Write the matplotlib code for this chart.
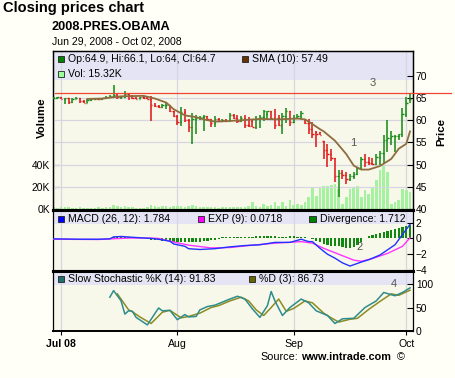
import matplotlib
matplotlib.use("Agg")
import matplotlib.pyplot as plt
from matplotlib.patches import Rectangle

plt.rcParams['font.family'] = ['Liberation Sans', 'DejaVu Sans']

W, H = 456, 378

# day index 0 = Jun 29 2008, one bar per day up to Oct 02
opens = [65.0, 65.1, 65.2, 64.9, 65.0, 64.1, 64.9, 65.1, 64.3, 64.0,
         64.5, 64.7, 64.9, 64.8, 65.0, 65.2, 65.4, 65.8, 65.2, 65.3,
         65.9, 65.4, 65.1, 64.9, 65.2, 65.1, 64.9, 63.5, 63.2, 63.1,
         63.4, 63.5, 62.1, 61.0, 59.6, 61.9, 60.1, 58.4, 60.3, 60.6,
         60.7, 60.9, 60.2, 59.4, 60.3, 59.9, 60.1, 59.8, 61.2, 60.6,
         59.8, 60.5, 58.9, 59.9, 58.6, 60.2, 60.8, 61.5, 62.1, 60.6,
         60.5, 58.9, 61.0, 62.2, 59.6, 60.5, 61.0, 60.4, 59.5, 58.0,
         57.4, 57.3, 55.3, 53.4, 52.5, 51.4, 47.5, 48.2, 47.6, 46.8,
         47.4, 48.0, 49.2, 51.2, 50.5, 50.3, 50.1, 51.8, 52.6, 55.5,
         56.0, 56.4, 56.5, 56.9, 61.5, 64.9]
highs = [65.3, 65.3, 65.3, 65.1, 65.1, 65.0, 65.2, 65.1, 64.6, 64.7,
         64.9, 65.0, 65.1, 65.1, 65.4, 65.6, 67.9, 66.0, 65.5, 66.7,
         66.1, 65.6, 65.3, 65.3, 65.4, 65.3, 65.4, 63.9, 63.5, 63.6,
         63.8, 63.5, 62.1, 61.3, 62.9, 62.5, 60.3, 61.6, 61.1, 60.9,
         61.1, 61.0, 60.4, 60.9, 60.5, 60.3, 60.4, 61.6, 61.4, 61.1,
         60.9, 61.1, 60.8, 60.3, 61.0, 61.1, 62.4, 62.2, 62.1, 62.5,
         61.1, 61.6, 62.7, 62.2, 61.1, 61.4, 62.0, 60.4, 60.3, 59.7,
         57.5, 57.4, 55.4, 54.7, 53.6, 51.4, 48.7, 48.7, 48.3, 47.9,
         48.3, 49.4, 51.7, 52.4, 51.7, 51.4, 52.4, 53.0, 56.7, 60.0,
         57.5, 56.7, 57.0, 62.7, 65.3, 66.1]
lows = [64.8, 64.9, 64.7, 63.6, 63.7, 64.0, 64.8, 63.9, 63.8, 63.9,
        64.3, 64.5, 64.7, 64.6, 64.9, 65.0, 65.1, 64.9, 64.8, 65.0,
        64.6, 64.9, 64.7, 64.8, 64.9, 64.8, 59.8, 63.0, 62.8, 62.8,
        62.6, 61.8, 60.7, 58.9, 58.7, 59.6, 57.3, 54.7, 56.9, 60.1,
        57.7, 59.8, 58.5, 58.4, 59.6, 59.7, 59.6, 59.8, 60.3, 59.4,
        59.6, 58.2, 58.4, 58.4, 58.1, 58.2, 59.9, 60.4, 60.2, 58.1,
        58.8, 56.9, 59.5, 58.8, 59.5, 60.2, 60.4, 59.2, 57.0, 56.0,
        54.0, 56.6, 51.3, 49.4, 50.9, 46.1, 42.7, 46.8, 45.7, 46.4,
        46.8, 47.6, 48.7, 49.4, 50.0, 50.0, 50.0, 49.9, 50.3, 52.9,
        54.5, 52.9, 55.5, 56.3, 60.8, 64.0]
closes = [65.1, 65.2, 64.9, 65.0, 64.1, 64.9, 65.1, 64.3, 64.0, 64.5,
          64.7, 64.9, 64.8, 65.0, 65.2, 65.4, 65.8, 65.2, 65.3, 65.9,
          65.4, 65.1, 64.9, 65.2, 65.1, 64.9, 63.5, 63.2, 63.1, 63.4,
          63.5, 62.1, 61.0, 59.6, 61.9, 60.1, 58.4, 60.3, 60.6, 60.7,
          60.9, 60.2, 59.4, 60.3, 59.9, 60.1, 59.8, 61.2, 60.6, 59.8,
          60.5, 58.9, 58.7, 58.6, 60.2, 60.8, 62.0, 62.1, 60.6, 59.0,
          58.9, 61.0, 62.2, 59.6, 60.5, 61.0, 61.7, 59.5, 58.0, 57.0,
          56.9, 56.7, 53.4, 52.5, 51.4, 47.5, 48.2, 47.6, 46.8, 47.4,
          48.0, 49.2, 51.2, 50.5, 50.3, 50.1, 51.8, 52.6, 55.5, 56.0,
          56.4, 56.5, 56.9, 61.5, 64.0, 64.7]
volume_k = [1.5, 1.2, 1.8, 2.0, 1.5, 1.2, 1.0, 1.6, 1.4, 1.2,
            1.0, 1.3, 1.5, 1.2, 1.8, 2.2, 4.0, 2.5, 1.8, 2.8,
            2.0, 1.5, 1.2, 1.0, 1.3, 1.5, 3.5, 2.5, 2.0, 2.8,
            2.5, 2.2, 3.0, 2.5, 3.2, 2.0, 2.8, 3.5, 2.5, 1.5,
            2.2, 1.8, 2.0, 1.5, 1.2, 1.5, 1.8, 2.0, 1.5, 2.0,
            1.8, 2.0, 3.0, 6.5, 3.0, 2.0, 4.5, 3.0, 3.5, 6.5,
            3.0, 6.0, 3.0, 8.0, 3.5, 4.5, 3.5, 6.0, 11, 20,
            12, 20, 21, 21, 22, 23, 18, 5, 11, 18,
            20, 21, 11, 17, 14, 20, 26, 35, 39, 33,
            5, 6.5, 8, 18, 17, 15.32]

sma_day = [9, 13, 18, 24, 27, 30, 32, 35, 38, 40, 43, 46, 48, 55, 60,
           65, 67, 68, 71, 72, 75, 78, 80, 82, 84, 87, 90, 92, 94, 95]
sma_val = [64.8, 64.9, 65.4, 65.5, 64.9, 64.0, 62.5, 61.1, 60.7, 60.2,
           59.7, 59.8, 59.9, 60.3, 60.2, 60.4, 60.2, 59.7, 58.0, 57.5,
           55.4, 52.4, 49.8, 48.9, 48.9, 49.7, 51.3, 53.6, 54.7, 57.49]

macd_day = [0, 7, 12, 15, 16, 18, 21, 26, 28, 31, 32, 35, 36, 39, 43, 47, 51,
            55, 59, 63, 66, 68, 69, 71, 73, 75, 77, 79, 82, 84, 87, 91, 93, 95]
macd_val = [-0.05, -0.1, -0.1, -0.05, 0.2, 0.25, 0.15, 0.0, -0.1, -0.35,
            -0.7, -1.0, -1.3, -1.4, -1.3, -1.07, -0.9, -0.8, -0.5, -0.5,
            -0.1, -0.4, -0.4, -1.25, -2.0, -2.5, -3.1, -3.5, -3.0, -2.7,
            -2.1, -0.8, 0.5, 1.784]
exp_day = [0, 12, 20, 26, 28, 32, 36, 42, 47, 52, 59, 66, 69, 72, 76,
           80, 82, 85, 89, 93, 95]
exp_val = [-0.1, -0.13, 0.05, 0.05, 0.0, -0.45, -0.85, -1.2, -1.15, -0.9,
           -0.6, -0.4, -0.6, -1.25, -2.0, -2.75, -2.9, -2.55, -1.9, -1.0, 0.0718]
divergence = [0] * 16 + [0.2] * 7 + [0.1, 0.0, -0.1, -0.15, -0.2] + \
    [-0.25, -0.3, -0.35, -0.4, -0.45, -0.5, -0.5, -0.5, -0.5, -0.45,
     -0.45, -0.4, -0.35, -0.3, -0.25, -0.2, -0.1] + \
    [0.15, 0.15, 0.2, 0.15, 0.15, 0.2, 0.15, 0.2, 0.2, 0.25] + \
    [0.3, 0.35, 0.3, 0.25, 0.25, 0.2, 0.2, 0.2, 0.25, 0.25, 0.2, 0.2, 0.15, 0.1] + \
    [-0.1, -0.3, -0.5, -0.65, -0.8, -0.9, -0.95, -1.0, -1.1, -1.15, -1.15, -1.1, -0.8, -0.4] + \
    [0.1, 0.25, 0.4, 0.55, 0.7, 0.85, 1.0, 1.1, 1.2, 1.35, 1.5, 1.6, 1.712]

k_day = [15, 16, 18, 19, 20, 21, 22, 25, 28, 29, 31, 33, 35, 36, 38, 39, 41, 43,
         47, 49, 51, 53, 55, 57, 58, 59, 61, 63, 66, 67, 68, 70, 73, 75, 77, 80,
         83, 86, 88, 91, 93, 95]
k_val = [72, 86, 64, 36, 43, 42, 29, 13, 49, 43, 44, 24, 35, 30, 31, 45, 52, 55,
         68, 74, 68, 47, 29, 54, 84, 64, 33, 50, 68, 64, 60, 43, 33, 16, 26, 27,
         50, 64, 82, 75, 82, 91.83]
d_day = [17, 20, 21, 23, 26, 29, 31, 34, 36, 39, 42, 44, 47, 50, 52, 54, 56,
         58, 60, 62, 64, 67, 69, 72, 74, 76, 79, 81, 84, 87, 90, 92, 95]
d_val = [79, 45, 41, 30, 16, 40, 44, 28, 31, 38, 50, 54, 64, 72, 64, 45, 33,
         50, 68, 42, 48, 64, 60, 38, 28, 19, 25, 27, 46, 63, 79, 76, 86.73]

month_days = [2, 33, 64, 94]
month_labels = ['Jul 08', 'Aug', 'Sep', 'Oct']

BG = '#FFFFF8'
PLOT_BG = '#F8F8EA'
BAND = '#E4E4F4'
GRID = '#D6D6E2'
UP = '#118811'
DOWN = '#DD1111'


def box(x0, y0, x1, y1):
    return [x0 / W, 1 - y1 / H, (x1 - x0) / W, (y1 - y0) / H]


def fx(x):
    return x / W


def fy(y):
    return 1 - y / H


def legend_item(x, y, color, label):
    fig.add_artist(Rectangle((fx(x), fy(y + 3.3)), 6.5 / W, 6.5 / H,
                             transform=fig.transFigure, facecolor=color,
                             edgecolor='#222222', lw=0.6))
    fig.text(fx(x + 10.5), fy(y), label, fontsize=7.6, va='center', ha='left')


def band(ax, frac):
    ax.add_patch(Rectangle((0, frac), 1, 1 - frac, transform=ax.transAxes,
                           facecolor=BAND, edgecolor='none', zorder=0.5))


fig = plt.figure(figsize=(W / 100, H / 100), dpi=100, facecolor=BG)

ax_v = fig.add_axes(box(53, 51, 413, 210))
ax_p = ax_v.twinx()
ax_m = fig.add_axes(box(53, 210, 413, 271))
ax_s = fig.add_axes(box(53, 271, 413, 331))

days = list(range(len(closes)))
xlim = (-0.15, 95.8)

for ax in (ax_v, ax_m, ax_s):
    ax.set_facecolor(PLOT_BG)
    ax.set_xlim(*xlim)
    for d in month_days:
        ax.axvline(d, color=GRID, lw=0.9, zorder=1)
ax_p.set_xlim(*xlim)

band(ax_v, 1 - 29 / 159)
band(ax_m, 1 - 14 / 61)
band(ax_s, 1 - 14 / 60)

# volume
ax_v.bar(days, volume_k, width=0.7, color='#A4F2A0', zorder=2)
ax_v.set_ylim(-0.8, 142.4)
ax_v.set_yticks([0, 20, 40])
ax_v.set_yticklabels(['0K', '20K', '40K'])

# price bars
colors = [UP if i == 0 or closes[i] >= closes[i - 1] else DOWN for i in days]
for p in [45, 50, 55, 60, 65]:
    ax_p.axhline(p, color=GRID, lw=0.9, zorder=1)
ax_p.vlines(days, lows, highs, colors=colors, lw=1.1, zorder=3)
ax_p.hlines(opens, [d - 0.35 for d in days], days, colors=colors, lw=1.0, zorder=3)
ax_p.hlines(closes, days, [d + 0.35 for d in days], colors=colors, lw=1.0, zorder=3)
ax_p.plot(sma_day, sma_val, color='#8E6C3E', lw=1.3, zorder=4)
ax_p.plot([0.005, 1.105], [66.1, 66.1], transform=ax_p.get_yaxis_transform(),
          color='#F04530', lw=0.9, clip_on=False, zorder=5)
ax_p.set_ylim(39.8, 75.6)
ax_p.set_yticks([40, 45, 50, 55, 60, 65, 70])

# MACD
ax_m.bar(range(len(divergence)), divergence, width=0.6, color='#118811', zorder=2)
ax_m.plot(exp_day, exp_val, color='#FF33FF', lw=1.0, zorder=3)
ax_m.plot(macd_day, macd_val, color='#2233FF', lw=1.0, zorder=4)
ax_m.set_ylim(-4.13, 3.61)
ax_m.set_yticks([2, 0, -2, -4])
ax_m.yaxis.tick_right()

# stochastic
ax_s.plot(d_day, d_val, color='#8C8C22', lw=1.1, zorder=3)
ax_s.plot(k_day, k_val, color='#2E8C8C', lw=1.1, zorder=4)
ax_s.set_ylim(0, 127.7)
ax_s.set_yticks([0, 50, 100])
ax_s.yaxis.tick_right()
ax_s.set_xticks(month_days)
ax_s.set_xticklabels(month_labels)
ax_s.get_xticklabels()[0].set_fontweight('bold')
ax_s.tick_params(axis='x', direction='out', length=3, labelsize=7.6, pad=3)

for ax in (ax_v, ax_p, ax_m):
    ax.set_xticks([])
for ax in (ax_v, ax_p, ax_m, ax_s):
    ax.tick_params(axis='y', direction='in', length=4, labelsize=7.4, pad=2)
    for s in ax.spines.values():
        s.set_color('black')
        s.set_linewidth(0.9)
for ax in (ax_v, ax_p):
    ax.spines['bottom'].set_linewidth(2.2)
ax_m.spines['top'].set_linewidth(2.2)
ax_m.spines['bottom'].set_linewidth(2.2)
ax_s.spines['top'].set_linewidth(2.2)
ax_s.spines['bottom'].set_linewidth(1.4)

# titles and labels
fig.text(fx(3), fy(8), 'Closing prices chart', fontsize=10.5, fontweight='bold', va='center')
fig.text(fx(52), fy(27), '2008.PRES.OBAMA', fontsize=9.2, fontweight='bold', va='center')
fig.text(fx(52), fy(42), 'Jun 29, 2008 - Oct 02, 2008', fontsize=7.6, va='center')
fig.text(fx(42), fy(118), 'Volume', fontsize=8.2, fontweight='bold', rotation=90,
         ha='center', va='center')
fig.text(fx(441), fy(132), 'Price', fontsize=8.2, fontweight='bold', rotation=90,
         ha='center', va='center')

legend_item(58, 59, '#008000', 'Op:64.9, Hi:66.1, Lo:64, Cl:64.7')
legend_item(242, 59, '#663300', 'SMA (10): 57.49')
legend_item(58, 74, '#99FF99', 'Vol: 15.32K')
legend_item(58, 219, '#0000FF', 'MACD (26, 12): 1.784')
legend_item(198, 219, '#FF00FF', 'EXP (9): 0.0718')
legend_item(309, 219, '#008000', 'Divergence: 1.712')
legend_item(58, 279, '#1F6F6F', 'Slow Stochastic %K (14): 91.83')
legend_item(249, 279, '#666600', '%D (3): 86.73')

for x, y, s in [(373, 83, '3'), (353, 143, '1'), (360, 247, '2'), (394, 284, '4')]:
    fig.text(fx(x), fy(y), s, fontsize=8, color='#555555', ha='center', va='center')

fig.text(fx(260), fy(357), 'Source:', fontsize=7.8, va='center')
fig.text(fx(301), fy(357), 'www.intrade.com', fontsize=7.8, fontweight='bold', va='center')
fig.text(fx(397), fy(357), '\u00a9', fontsize=7.8, va='center')

fig.savefig('out.png', dpi=100, facecolor=BG)
